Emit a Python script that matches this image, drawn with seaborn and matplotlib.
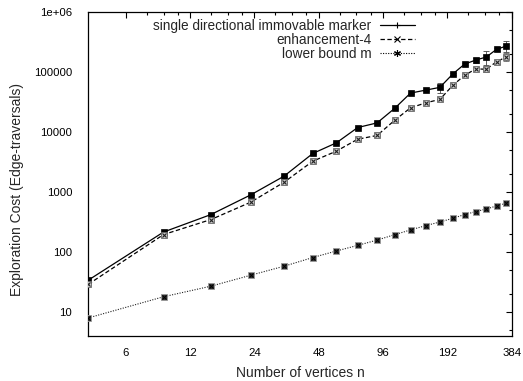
import numpy as np
import pandas as pd
import matplotlib
matplotlib.use("Agg")
import matplotlib.pyplot as plt
from matplotlib.lines import Line2D
from matplotlib.ticker import FixedLocator, FixedFormatter, NullFormatter
import seaborn as sns

# Graph sizes (number of vertices)
n_vertices = [4, 9, 15, 23, 33, 45, 58, 73, 90, 109, 129, 152, 177, 204, 231, 261, 292, 326, 362]

# Exploration cost, single directional immovable marker
single_cost = [34, 215, 420, 890, 1830, 4370, 6560, 11800, 14100, 24800,
               44200, 49500, 55000, 92700, 134000, 157000, 176000, 236000, 268000]
single_err = [1, 4, 8, 15, 30, 70, 100, 200, 300, 500,
              800, 1000, 11000, 4000, 6000, 15000, 44000, 16000, 53000]

# Exploration cost, enhancement-4
enh_cost = [29, 195, 347, 673, 1450, 3250, 4770, 7550, 8710, 15700,
            25100, 30400, 34700, 60000, 87100, 112000, 110000, 147000, 176000]
enh_err = [1, 3, 6, 10, 25, 50, 80, 120, 150, 300,
           500, 600, 800, 2000, 3000, 6000, 11000, 11000, 26000]

# Lower bound: number of edges m
lower_m = [8, 18, 27, 41, 58, 81, 104, 129, 158, 195,
           233, 275, 316, 365, 420, 471, 521, 584, 648]

labels = ["single directional immovable marker", "enhancement-4", "lower bound m"]

x_ticks = [6, 12, 24, 48, 96, 192, 384]
x_ticklabels = ["6", "12", "24", "48", "96", "192", "384"]
y_ticks = [10, 100, 1000, 10000, 100000, 1000000]
y_ticklabels = ["10", "100", "1000", "10000", "100000", "1e+06"]

sns.set_style("white")
plt.rcParams["font.family"] = ["Liberation Sans", "DejaVu Sans"]
plt.rcParams["font.size"] = 10

fig = plt.figure(figsize=(5.23, 3.81), dpi=100)
ax = fig.add_axes([0.1688, 0.1181, 0.8096, 0.8512])
ax.set_xscale("log", base=2)
ax.set_yscale("log")

df = pd.DataFrame({"n": n_vertices, "single": single_cost, "enh": enh_cost, "lower": lower_m})

lw = 0.9
# error bars first so markers sit on top
ax.errorbar(df["n"], df["single"], yerr=single_err, fmt="none", ecolor="#444444",
            elinewidth=0.6, capsize=2, capthick=0.6, zorder=2)
ax.errorbar(df["n"], df["enh"], yerr=enh_err, fmt="none", ecolor="#666666",
            elinewidth=0.6, capsize=2, capthick=0.6, zorder=2)

sns.lineplot(data=df, x="n", y="single", ax=ax, color="black", linewidth=lw,
             linestyle="-", marker="s", markersize=4.2, markerfacecolor="black",
             markeredgecolor="black", markeredgewidth=0.5, zorder=3)
sns.lineplot(data=df, x="n", y="enh", ax=ax, color="black", linewidth=lw,
             linestyle=(0, (3.5, 2.0)), marker="s", markersize=4.2,
             markerfacecolor="#c8c8c8", markeredgecolor="#666666",
             markeredgewidth=0.6, zorder=3)
ax.plot(df["n"], df["enh"], linestyle="none", marker="x", markersize=3.0,
        color="#222222", markeredgewidth=0.8, zorder=4)
sns.lineplot(data=df, x="n", y="lower", ax=ax, color="#222222", linewidth=0.8,
             linestyle=(0, (1, 1.3)), marker="s", markersize=4.0,
             markerfacecolor="#333333", markeredgecolor="#999999",
             markeredgewidth=0.6, zorder=3)
ax.plot(df["n"], df["lower"], linestyle="none", marker="x", markersize=3.0,
        color="#000000", markeredgewidth=0.7, zorder=4)

ax.set_xlim(4, 384)
ax.set_ylim(4, 1e6)

ax.xaxis.set_major_locator(FixedLocator(x_ticks))
ax.xaxis.set_major_formatter(FixedFormatter(x_ticklabels))
x_minor = [a * f for a in x_ticks[:-1] for f in (1.25, 1.5, 1.75)]
ax.xaxis.set_minor_locator(FixedLocator(x_minor))
ax.xaxis.set_minor_formatter(NullFormatter())

ax.yaxis.set_major_locator(FixedLocator(y_ticks))
ax.yaxis.set_major_formatter(FixedFormatter(y_ticklabels))
y_minor = [5] + [d * f for d in y_ticks[:-1] for f in (2, 5)]
ax.yaxis.set_minor_locator(FixedLocator(y_minor))
ax.yaxis.set_minor_formatter(NullFormatter())

ax.tick_params(which="both", direction="in", top=True, right=True,
               color="black", width=0.8, labelsize=8.2, labelcolor="black")
ax.tick_params(which="major", length=4)
ax.tick_params(which="minor", length=2.2)
ax.tick_params(axis="x", which="major", pad=8.5)
ax.tick_params(axis="y", which="major", pad=11.5)

for s in ax.spines.values():
    s.set_color("black")
    s.set_linewidth(0.9)

ax.set_xlabel("Number of vertices n", fontsize=10)
ax.set_ylabel("Exploration Cost (Edge-traversals)", fontsize=10)
ax.xaxis.set_label_coords(0.5, -0.093)
ax.yaxis.set_label_coords(-0.152, 0.453)

handles = [
    Line2D([], [], color="black", linewidth=lw, linestyle="-", marker="+",
           markersize=5, markeredgewidth=0.8),
    Line2D([], [], color="black", linewidth=lw, linestyle=(0, (3.5, 2.0)),
           marker="x", markersize=4, markeredgewidth=0.8),
    Line2D([], [], color="black", linewidth=0.8, linestyle=(0, (1, 1.3)),
           marker=(6, 2, 0), markersize=5, markeredgewidth=0.8),
]
leg = ax.legend(handles, labels, loc="upper right", bbox_to_anchor=(0.772, 0.978),
                markerfirst=False, frameon=False, fontsize=9.8, handlelength=2.6,
                handletextpad=0.6, labelspacing=0.0, borderpad=0, borderaxespad=0)

fig.savefig("out.png", dpi=100)
